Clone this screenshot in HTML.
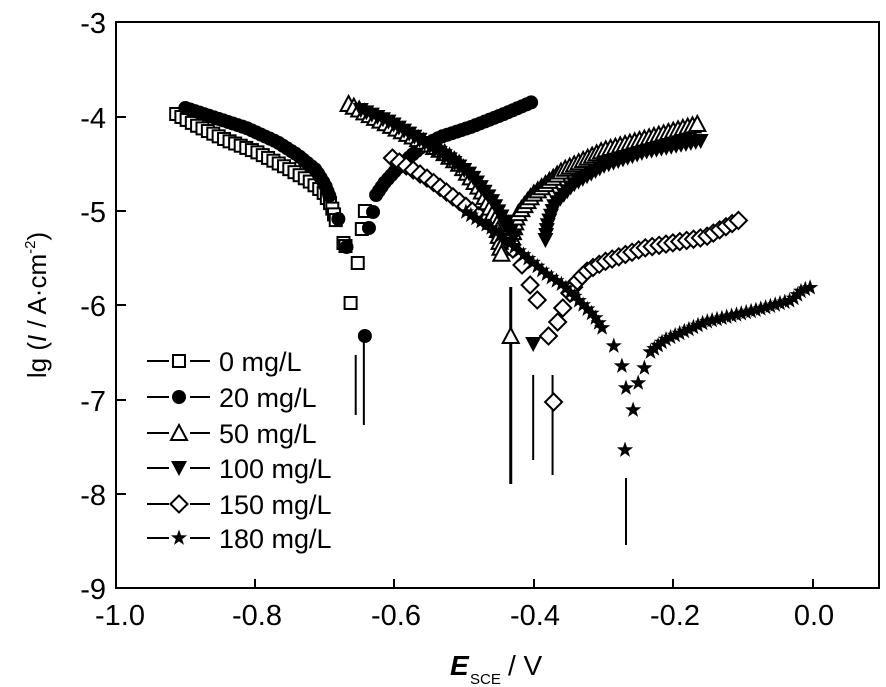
<!DOCTYPE html>
<html><head><meta charset="utf-8"><style>
html,body{margin:0;padding:0;background:#fff;}
svg{display:block;font-family:"Liberation Sans",Arial,sans-serif;}
</style></head><body>
<svg id="s" width="886" height="687" viewBox="0 0 886 687" xmlns="http://www.w3.org/2000/svg">
<rect x="0" y="0" width="886" height="687" fill="#fff"/>
<rect x="116" y="22" width="763" height="566" fill="none" stroke="#000" stroke-width="2"/>
<g stroke="#000" stroke-width="2">
<line x1="255" y1="588" x2="255" y2="579"/><line x1="394" y1="588" x2="394" y2="579"/>
<line x1="534" y1="588" x2="534" y2="579"/><line x1="673" y1="588" x2="673" y2="579"/>
<line x1="813" y1="588" x2="813" y2="579"/>
<line x1="116" y1="117" x2="126" y2="117"/><line x1="116" y1="211" x2="126" y2="211"/>
<line x1="116" y1="305" x2="126" y2="305"/><line x1="116" y1="400" x2="126" y2="400"/>
<line x1="116" y1="494" x2="126" y2="494"/>
</g>
<g font-size="29" text-anchor="end" fill="#000">
<text x="106" y="33">-3</text><text x="106" y="128">-4</text><text x="106" y="222">-5</text>
<text x="106" y="316">-6</text><text x="106" y="411">-7</text><text x="106" y="505">-8</text>
<text x="106" y="599">-9</text>
</g>
<g font-size="29" text-anchor="middle" fill="#000">
<text x="120" y="625">-1.0</text><text x="257" y="625">-0.8</text><text x="396" y="625">-0.6</text>
<text x="535" y="625">-0.4</text><text x="675" y="625">-0.2</text><text x="814" y="625">0.0</text>
</g>
<text x="450" y="675" font-size="28" font-style="italic" font-weight="bold">E</text>
<text x="470" y="684" font-size="15">SCE</text>
<text x="508" y="675" font-size="28">/ V</text>
<text transform="translate(46,305) rotate(-90)" font-size="26" text-anchor="middle">lg (<tspan font-style="italic">I</tspan> / A·cm<tspan font-size="15" dy="-11">-2</tspan><tspan dy="11">)</tspan></text>
<g id="legend" font-size="27"></g>
<g id="data"></g>
</svg>
<script>
var NS="http://www.w3.org/2000/svg";
var D=document.getElementById("data"),L=document.getElementById("legend");
function el(p,t,a){var e=document.createElementNS(NS,t);for(var k in a)e.setAttribute(k,a[k]);p.appendChild(e);return e;}
function mk(p,type,x,y){
 var s=7;
 if(type=="sq")el(p,"rect",{x:x-s+1,y:y-s+1,width:2*s-2,height:2*s-2,fill:"#fff",stroke:"#000","stroke-width":2});
 else if(type=="ci")el(p,"circle",{cx:x,cy:y,r:s,fill:"#000"});
 else if(type=="tu")el(p,"polygon",{points:(x)+","+(y-s-1)+" "+(x-s-1)+","+(y+s)+" "+(x+s+1)+","+(y+s),fill:"#fff",stroke:"#000","stroke-width":2});
 else if(type=="td")el(p,"polygon",{points:(x)+","+(y+s+1)+" "+(x-s-1)+","+(y-s)+" "+(x+s+1)+","+(y-s),fill:"#000"});
 else if(type=="di")el(p,"polygon",{points:x+","+(y-s-1.5)+" "+(x+s+1.5)+","+y+" "+x+","+(y+s+1.5)+" "+(x-s-1.5)+","+y,fill:"#fff",stroke:"#000","stroke-width":2});
 else if(type=="st"){var pts=[];for(var i=0;i<10;i++){var r=i%2?3.4:8.5,a=-Math.PI/2+i*Math.PI/5;pts.push((x+r*Math.cos(a)).toFixed(1)+","+(y+r*Math.sin(a)).toFixed(1));}el(p,"polygon",{points:pts.join(" "),fill:"#000"});}
}
function tx(x){return 116+(x-122)*1.02;}
function series(type,pts,step){
 var P=pts.map(function(p){return [tx(p[0]),p[1]];});
 var out=[P[0]];var acc=0;
 for(var i=1;i<P.length;i++){
  var dx=P[i][0]-P[i-1][0],dy=P[i][1]-P[i-1][1],d=Math.sqrt(dx*dx+dy*dy),t=step-acc;
  while(t<=d){out.push([P[i-1][0]+dx*t/d,P[i-1][1]+dy*t/d]);t+=step;}
  acc=d-(t-step);
 }
 out.forEach(function(q){mk(D,type,q[0],q[1]);});
}
function vl(x,y1,y2,w){el(D,"line",{x1:tx(x),y1:y1,x2:tx(x),y2:y2,stroke:"#000","stroke-width":w||2});}
vl(357,355,415);vl(365,330,425);vl(509,287,484,3);vl(531,375,460);vl(550,375,475);vl(622,478,545);
series("sq",[[181,114],[200,125],[230,140],[260,152],[290,168],[310,180],[325,192],[333,205],[338,222]],6);
[[345,243],[347,246],[359,263],[352,303],[363,229],[366,211]].forEach(function(p){mk(D,"sq",tx(p[0]),p[1]);});
series("ci",[[190,108],[220,118],[250,128],[280,142],[300,155],[318,170],[327,185],[332,198]],5);
[[340,219],[348,247],[366,336],[370,228],[374,212]].forEach(function(p){mk(D,"ci",tx(p[0]),p[1]);});
series("ci",[[377,195],[385,183],[400,166],[420,148],[440,137],[470,127],[500,115],[530,102]],5);
series("di",[[393,158],[410,168],[430,180],[450,195],[470,210],[490,225],[505,240],[515,255]],8);
[[520,265],[528,285],[535,300],[546,336],[555,322],[560,308],[567,293],[551,402]].forEach(function(p){mk(D,"di",tx(p[0]),p[1]);});
series("di",[[567,293],[575,280],[585,270],[600,262],[640,248],[700,237],[735,219]],7);
series("tu",[[350,104],[380,120],[410,135],[440,150],[460,165],[480,190],[495,220],[500,255]],6);
mk(D,"tu",tx(509),336);
series("tu",[[510,237],[515,215],[530,195],[560,170],[600,150],[660,133],[692,124]],5);
series("td",[[362,110],[390,122],[420,140],[450,160],[470,175],[490,200],[505,225],[512,238]],6);
mk(D,"td",tx(531),344);
series("td",[[543,240],[545,226],[552,205],[570,185],[600,166],[640,152],[700,140]],5);
series("st",[[465,212],[490,228],[510,245],[530,262],[545,275],[560,285],[575,300],[590,315],[600,330]],6);
[[610,346],[618,366],[622,388],[621,450],[629,410],[634,383],[640,368]].forEach(function(p){mk(D,"st",tx(p[0]),p[1]);});
series("st",[[646,352],[660,340],[700,322],[750,310],[785,300],[795,290],[805,287]],5);
var rows=[["sq","0 mg/L",361],["ci","20 mg/L",397],["tu","50 mg/L",433],["td","100 mg/L",468],["di","150 mg/L",504],["st","180 mg/L",538]];
rows.forEach(function(r){
 el(L,"line",{x1:147,y1:r[2],x2:169,y2:r[2],stroke:"#000","stroke-width":2});
 el(L,"line",{x1:190,y1:r[2],x2:210,y2:r[2],stroke:"#000","stroke-width":2});
 mk(L,r[0],179,r[2]);
 var t=el(L,"text",{x:219,y:r[2]+10});t.textContent=r[1];
});
</script>
</body></html>
